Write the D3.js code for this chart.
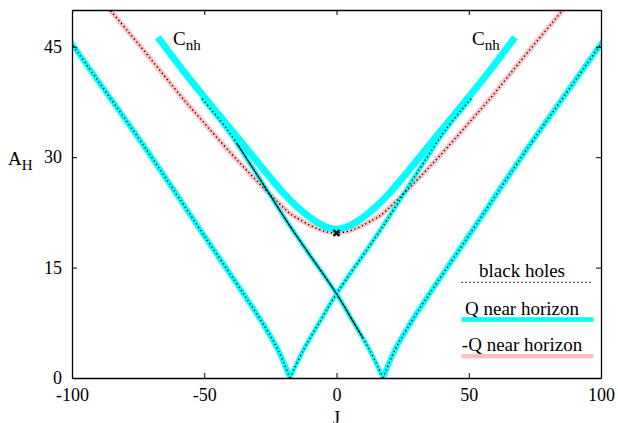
<!DOCTYPE html>
<html>
<head>
<meta charset="utf-8">
<script src="https://cdn.jsdelivr.net/npm/d3@7"></script>
<style>
  html, body { margin: 0; padding: 0; background: #fff; }
  svg { display: block; }
  text { font-family: "Liberation Serif", "Times New Roman", "DejaVu Serif", serif; fill: #000; }
</style>
</head>
<body>
<svg id="chart" width="618" height="423"></svg>
<script>
// ---------------- data ----------------
const xTicks = [-100, -50, 0, 50, 100];
const yTicks = [0, 15, 30, 45];

// -Q near horizon (pink, with black-hole dots on it)
const pinkJ = [-90, -85.6, -72.4, -59.2, -51.6, -36.5, -20.2, -13.8, 0, 13.8, 20.2, 36.5, 51.6, 59.2, 72.4, 85.6, 90];
const pinkA = [52.0, 50.0, 44.3, 38.45, 35.3, 29.2, 23.2, 21.5, 19.7, 21.5, 23.2, 29.2, 35.3, 38.45, 44.3, 50.0, 52.0];

// C_nh : Q near horizon (thick cyan)
const cnhJ = [-67.5, -55, -40, -30, -25, -20, -15, -10, -5, 0, 5, 10, 15, 20, 25, 30, 40, 55, 67.5];
const cnhA = [46.3, 40.4, 33.8, 29.4, 27.2, 25.1, 23.3, 21.8, 20.7, 20.2, 20.7, 21.8, 23.3, 25.1, 27.2, 29.4, 33.8, 40.4, 46.3];

// outer branches (cyan + dots)
const outerLJ = [-102, -100, -71.8, -50.5, -28.9, -22.1, -17.6];
const outerLA = [46.5, 45.4, 31.0, 19.6, 8.0, 3.8, 0];
const outerRJ = [17.6, 22.1, 28.9, 50.5, 71.8, 100, 102];
const outerRA = [0, 3.8, 8.0, 19.6, 31.0, 45.4, 46.5];

// inner branches (cyan + dots), from the cusps across J = 0
const innerLJ = [-17.6, -12.5, -5.9, 0, 16.4, 31.6, 41.0, 50.9];
const innerLA = [0, 3.8, 7.9, 11.45, 20.0, 28.5, 33.6, 38.0];
const innerRJ = [17.6, 12.5, 5.9, 0, -16.4, -31.6, -41.0, -50.9];
const innerRA = [0, 3.8, 7.9, 11.45, 20.0, 28.5, 33.6, 38.0];

// J-range of the solid black part on the right-cusp inner branch
const solidRange = [-37.6, 10];

// extremal point marker
const markJ = [0];
const markA = [19.7];

// legend
const legendLabels = ["black holes", "Q near horizon", "-Q near horizon"];

// ---------------- chart ----------------
const svg = d3.select("#chart");
const x = d3.scaleLinear().domain([-100, 100]).range([72, 601]);
const y = d3.scaleLinear().domain([0, 50]).range([378, 10]);

const zip = (J, A) => J.map((j, i) => [j, A[i]]);
const line = d3.line().x(d => x(d[0])).y(d => y(d[1])).curve(d3.curveCatmullRom.alpha(0.5));
const smooth = d3.line().x(d => x(d[0])).y(d => y(d[1])).curve(d3.curveNatural);

svg.append("defs").append("clipPath").attr("id", "plot")
  .append("rect").attr("x", x(-100)).attr("y", y(50))
  .attr("width", x(100) - x(-100)).attr("height", y(0) - y(50));

const g = svg.append("g").attr("clip-path", "url(#plot)");

const CYAN = "#00ffff", PINK = "#ffbfbf";

// pink band
g.append("path").attr("d", smooth(zip(pinkJ, pinkA)))
  .attr("fill", "none").attr("stroke", PINK).attr("stroke-width", 5);

// cyan bands
[[outerLJ, outerLA], [outerRJ, outerRA]].forEach(([J, A]) =>
  g.append("path").attr("d", line(zip(J, A)))
    .attr("fill", "none").attr("stroke", CYAN).attr("stroke-width", 5.5));
[[innerLJ, innerLA], [innerRJ, innerRA]].forEach(([J, A]) =>
  g.append("path").attr("d", line(zip(J, A)))
    .attr("fill", "none").attr("stroke", CYAN).attr("stroke-width", 4.5));
g.append("path").attr("d", smooth(zip(cnhJ, cnhA)))
  .attr("fill", "none").attr("stroke", CYAN).attr("stroke-width", 7);

// black-hole dotted curves
const DOTS = "1.3,2.7";
[[outerLJ, outerLA, line], [outerRJ, outerRA, line], [innerLJ, innerLA, line], [innerRJ, innerRA, line], [pinkJ, pinkA, smooth]]
  .forEach(([J, A, gen]) =>
    g.append("path").attr("d", gen(zip(J, A)))
      .attr("fill", "none").attr("stroke", "#000").attr("stroke-width", 1.3)
      .attr("stroke-dasharray", DOTS));

// solid black part of the right-cusp inner branch
const solid = g.append("path").attr("d", line(zip(innerRJ, innerRA)))
  .attr("fill", "none").attr("stroke", "#000").attr("stroke-width", 1.1);
(function () {
  const node = solid.node();
  const L = node.getTotalLength();
  function lenAt(px) {
    let lo = 0, hi = L;
    for (let k = 0; k < 40; k++) {
      const mid = (lo + hi) / 2;
      if (node.getPointAtLength(mid).x > px) lo = mid; else hi = mid;
    }
    return (lo + hi) / 2;
  }
  const l1 = lenAt(x(solidRange[1]));
  const l2 = lenAt(x(solidRange[0]));
  solid.attr("stroke-dasharray", `0 ${l1} ${l2 - l1} ${L}`);
})();

// marker
markJ.forEach((j, i) => {
  const cx = x(j), cy = y(markA[i]), r = 3;
  svg.append("path")
    .attr("d", `M${cx - r},${cy - r}L${cx + r},${cy + r}M${cx - r},${cy + r}L${cx + r},${cy - r}`)
    .attr("stroke", "#000").attr("stroke-width", 2.2).attr("fill", "none");
});

// ---------------- axes / border ----------------
const fmt = d => String(d);
function styleAxis(sel) {
  sel.attr("font-family", null).attr("font-size", null);
  sel.selectAll("path.domain").attr("stroke", "#000").attr("stroke-width", 1.3);
  sel.selectAll(".tick line").attr("stroke", "#000").attr("stroke-width", 1);
  sel.selectAll(".tick text").style("font-size", "18px")
    .style("font-family", '"Liberation Serif", "Times New Roman", serif');
}
svg.append("g").attr("transform", `translate(0,${y(0)})`)
  .call(d3.axisBottom(x).tickValues(xTicks).tickSize(-5).tickSizeOuter(0).tickPadding(10).tickFormat(fmt))
  .call(styleAxis);
svg.append("g").attr("transform", `translate(0,${y(50)})`)
  .call(d3.axisTop(x).tickValues(xTicks).tickSize(-5).tickSizeOuter(0).tickFormat(""))
  .call(styleAxis);
svg.append("g").attr("transform", `translate(${x(-100)},0)`)
  .call(d3.axisLeft(y).tickValues(yTicks).tickSize(-5).tickSizeOuter(0).tickPadding(10).tickFormat(fmt))
  .call(styleAxis);
svg.append("g").attr("transform", `translate(${x(100)},0)`)
  .call(d3.axisRight(y).tickValues(yTicks).tickSize(-5).tickSizeOuter(0).tickFormat(""))
  .call(styleAxis);

// axis titles
const ylab = svg.append("text").attr("x", 8).attr("y", 165).style("font-size", "19px");
ylab.append("tspan").text("A");
ylab.append("tspan").attr("dy", 5).style("font-size", "15px").text("H");

svg.append("text").attr("x", x(0)).attr("y", 424).attr("text-anchor", "middle")
  .style("font-size", "19px").text("J");

// C_nh labels
[173, 472].forEach(px => {
  const t = svg.append("text").attr("x", px).attr("y", 45).style("font-size", "19px");
  t.append("tspan").text("C");
  t.append("tspan").attr("dy", 5).style("font-size", "15px").text("nh");
});

// ---------------- legend ----------------
const lg = svg.append("g");
const textY = [277, 314.5, 351];
const sampleY = [282.3, 319.6, 356.3];
const lx0 = 461.5, lx1 = 593.5, lcx = 522;
legendLabels.forEach((lab, i) => {
  lg.append("text").attr("x", lcx).attr("y", textY[i]).attr("text-anchor", "middle")
    .style("font-size", "19px").text(lab);
});
lg.append("line").attr("x1", lx0).attr("x2", lx1).attr("y1", sampleY[0]).attr("y2", sampleY[0])
  .attr("stroke", "#000").attr("stroke-width", 1.2).attr("stroke-dasharray", "1.2,2.8");
lg.append("line").attr("x1", lx0).attr("x2", lx1).attr("y1", sampleY[1]).attr("y2", sampleY[1])
  .attr("stroke", CYAN).attr("stroke-width", 4.5);
lg.append("line").attr("x1", lx0).attr("x2", lx1).attr("y1", sampleY[2]).attr("y2", sampleY[2])
  .attr("stroke", PINK).attr("stroke-width", 4.5);
</script>
</body>
</html>
